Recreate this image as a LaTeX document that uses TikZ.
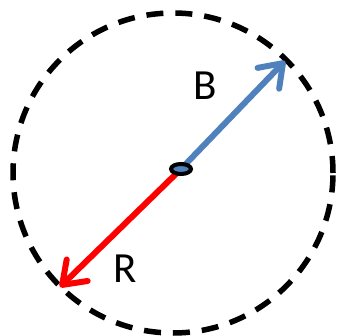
\documentclass[tikz,border=0pt]{standalone}
\usepackage{fontspec}
\setmainfont{Carlito}
\usetikzlibrary{positioning, arrows.meta, shapes.geometric}
\definecolor{Blu}{HTML}{4F81BD}
\definecolor{Rosso}{HTML}{FF0000}
\tikzset{
    rim/.style={draw=black, line width=5.5pt, dash pattern=on 17pt off 12pt},
    hub/.style={ellipse, draw=black, line width=4pt, fill=Blu, minimum width=20pt, minimum height=10pt, inner sep=0pt},
    vec/.style={line width=6pt, line cap=round, -{Straight Barb[length=21pt, width=30pt, round]}},
    lbl/.style={font=\fontsize{43}{43}\selectfont, text=black},
}

\begin{document}
\begin{tikzpicture}[x=1pt, y=1pt]
    \useasboundingbox (0,0) rectangle (336,336);
    % Bordo tratteggiato
    \draw[rim] (173,163) circle (160);

    % Punti
    \coordinate (btip) at (285,275);
    \coordinate (rtip) at (60,49);
    \coordinate (c) at (181,167);

    % Vettori
    \draw[vec, Blu] (c) -- (btip);
    \draw[vec, Rosso] (c) -- (rtip);
    \node[hub] (hub) at (c) {};

    % Etichette
    \node[lbl] (blab) at (205,250.5) {B};
    \node[lbl] (rlab) at (125,67) {R};
\end{tikzpicture}
\end{document}
